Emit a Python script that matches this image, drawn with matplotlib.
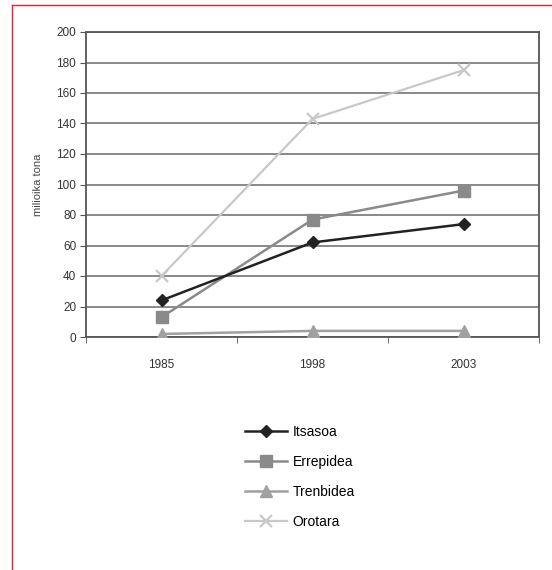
import matplotlib
matplotlib.use("Agg")
import matplotlib.pyplot as plt
from matplotlib.lines import Line2D

plt.rcParams['font.family'] = ['Liberation Sans', 'DejaVu Sans']

years = ["1985", "1998", "2003"]
itsasoa = [24, 62, 74]
errepidea = [13, 77, 96]
trenbidea = [2, 4, 4]
orotara = [40, 143, 175]

series_names = ["Itsasoa", "Errepidea", "Trenbidea", "Orotara"]

fig = plt.figure(figsize=(5.52, 5.70), dpi=100)
ax = fig.add_axes([86 / 552, 1 - 337 / 570, (539 - 86) / 552, (337 - 32) / 570])

x = list(range(len(years)))
ax.plot(x, orotara, color="#c8c8c8", lw=1.6, marker="x", ms=8, mew=1.6, label=series_names[3], zorder=3)
ax.plot(x, trenbidea, color="#a0a0a0", lw=1.8, marker="^", ms=8, label=series_names[2], zorder=4)
ax.plot(x, errepidea, color="#8a8a8a", lw=1.8, marker="s", ms=8.5, label=series_names[1], zorder=5)
ax.plot(x, itsasoa, color="#222222", lw=1.8, marker="D", ms=6.5, label=series_names[0], zorder=6)

ax.set_xlim(-0.5, 2.5)
ax.set_ylim(0, 200)
ax.set_yticks(range(0, 201, 20))
ax.set_xticks(x)
ax.set_xticklabels(years, fontsize=8.5, color="#333333")
ax.set_xticks([-0.5, 0.5, 1.5, 2.5], minor=True)
ax.tick_params(axis="x", which="major", length=0, pad=16)
ax.tick_params(axis="x", which="minor", length=4, color="#555555")
ax.tick_params(axis="y", length=4, color="#555555", labelsize=8.5, labelcolor="#333333", pad=3)

ax.yaxis.grid(True, color="#808080", lw=1.3)
ax.set_axisbelow(True)
for side in ["left", "right", "bottom", "top"]:
    ax.spines[side].set_color("#555555")
    ax.spines[side].set_linewidth(1.3)

ax.set_ylabel("milioika tona", fontsize=8, color="#444444", labelpad=10)

handles, labels = ax.get_legend_handles_labels()
order = [3, 2, 1, 0]
fig.legend([handles[i] for i in order], [labels[i] for i in order],
           loc="center", bbox_to_anchor=(300 / 552, 1 - 477 / 570),
           frameon=False, fontsize=10, handlelength=3.0,
           labelspacing=1.16, handletextpad=0.45)

# red frame along the top and left edge
fig.add_artist(Line2D([12 / 552, 1], [1 - 5 / 570, 1 - 5 / 570], color="#e52330", lw=1.0))
fig.add_artist(Line2D([12 / 552, 12 / 552], [0, 1 - 5 / 570], color="#e52330", lw=1.0))

fig.savefig("out.png", dpi=100)
